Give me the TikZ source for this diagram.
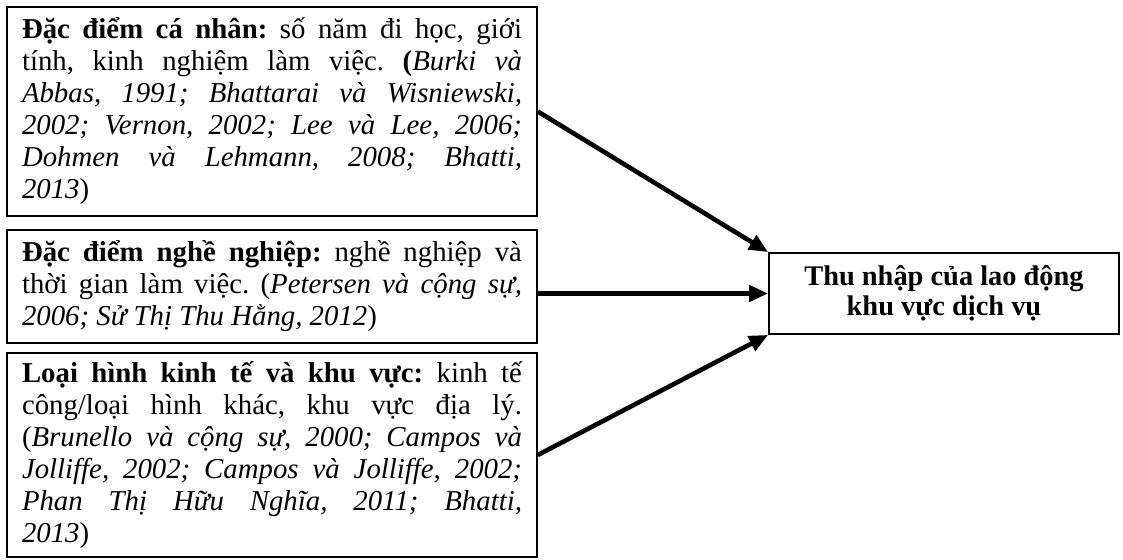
\documentclass[tikz,border=0pt]{standalone}
\usepackage{fontspec}
\setmainfont{Liberation Serif}
\usetikzlibrary{positioning, arrows.meta}
\frenchspacing

\begin{document}
\begin{tikzpicture}[x=1pt, y=1pt, font={\fontsize{14.4}{16}\selectfont},
  src/.style={draw, line width=0.8pt, minimum width=265pt, text width=250pt, align=justify, inner sep=0pt},
  res/.style={draw, line width=0.9pt, minimum width=175pt, minimum height=40.5pt, align=center,
    inner sep=0pt, font={\fontsize{14.2}{15}\selectfont\bfseries}},
  link/.style={-{Triangle[length=9.5pt, width=8pt]}, line width=2.3pt}]
\useasboundingbox (0,0) rectangle (561.5,-280);
\node[src, minimum height=104.5pt] (pers) at (136,-55.75) {\textbf{Đặc điểm cá nhân:} số năm đi học, giới\linebreak
  tính, kinh nghiệm làm việc. \textbf{(}\textit{Burki và\linebreak
  Abbas, 1991; Bhattarai và Wisniewski,\linebreak
  2002; Vernon, 2002; Lee và Lee, 2006;\linebreak
  Dohmen và Lehmann, 2008; Bhatti,\linebreak
  2013})};
\node[src, minimum height=56.5pt] (job) at (136,-143.25) {\textbf{Đặc điểm nghề nghiệp:} nghề nghiệp và\linebreak
  thời gian làm việc. (\textit{Petersen và cộng sự,\linebreak
  2006; Sử Thị Thu Hằng, 2012})};
\node[src, minimum height=102pt] (econ) at (136,-227.5) {\textbf{Loại hình kinh tế và khu vực:} kinh tế\linebreak
  công/loại hình khác, khu vực địa lý.\linebreak
  (\textit{Brunello và cộng sự, 2000; Campos và\linebreak
  Jolliffe, 2002; Campos và Jolliffe, 2002;\linebreak
  Phan Thị Hữu Nghĩa, 2011; Bhatti,\linebreak
  2013})};
\node[res] (inc) at (472,-146.75) {Thu nhập của lao động\\ khu vực dịch vụ};
\draw[link] (pers.east) -- (inc.north west);
\draw[link] (job.east |- inc.west) -- (inc.west);
\draw[link] (econ.east) -- (inc.south west);
\end{tikzpicture}
\end{document}
